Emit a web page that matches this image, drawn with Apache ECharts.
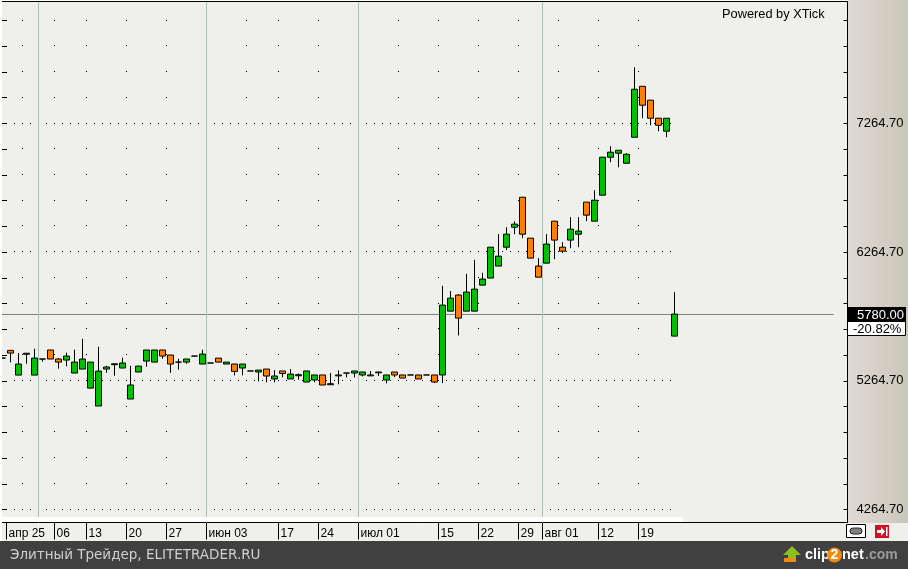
<!DOCTYPE html>
<html>
<head>
<meta charset="utf-8">
<title>XTick chart</title>
<style>
  html, body { margin: 0; padding: 0; background: #fff; }
  #chart {
    width: 908px; height: 569px;
    background: linear-gradient(90deg, #e1d9d4, #c9c7b9) 848px 0 / 60px 523px no-repeat, #eff0eb;
  }
</style>
<script src="https://cdn.jsdelivr.net/npm/echarts@6/dist/echarts.min.js"></script>
</head>
<body>
<div id="chart"></div>
<script>
// candles
const opens = [5441,5501,5309,5471,5309,5434,5504,5434,5426,5325,5356,5208,5069,5356,5390,5364,5123,5333,5418,5410,5504,5465,5410,5410,5457,5395,5403,5441,5395,
  5395,5364,5341,5333,5356,5279,5341,5279,5304,5255,5271,5310,5234,5303,5325,5325,5310,5303,5327,5271,5333,5310,5310,5310,5310,5310,
  5310,5806,5931,5806,5806,6008,6063,6156,6303,6458,6691,6373,6156,6179,6505,
  6303,6358,6404,6653,6505,6707,7002,7033,6955,7157,7553,7445,7305,7204,5612];
const closes = [5441,5480,5395,5479,5441,5434,5434,5410,5457,5410,5434,5410,5340,5372,5397,5403,5232,5379,5504,5504,5457,5395,5410,5434,5457,5472,5403,5410,5410,
  5338,5395,5341,5348,5302,5302,5322,5317,5312,5341,5310,5232,5242,5310,5325,5341,5333,5310,5333,5310,5310,5286,5310,5279,5310,5255,
  5853,5907,5752,5954,5977,6055,6303,6233,6404,6482,6404,6218,6070,6327,6358,
  6272,6443,6428,6552,6668,7002,7041,7056,7025,7530,7406,7305,7250,7305,5783];
const lows = [5441,5408,5309,5397,5309,5413,5434,5359,5377,5325,5356,5208,5069,5327,5304,5364,5123,5333,5374,5410,5436,5327,5351,5397,5457,5395,5403,5410,5395,
  5307,5307,5341,5260,5253,5253,5291,5279,5273,5255,5253,5232,5232,5237,5291,5291,5299,5303,5302,5245,5294,5286,5310,5279,5310,5247,
  5247,5806,5617,5806,5806,6008,6063,6156,6280,6404,6373,6218,6070,6179,6210,
  6257,6295,6303,6505,6505,6707,6963,6924,6955,7157,7305,7250,7204,7157,5612];
const highs = [5441,5501,5480,5480,5514,5434,5504,5441,5483,5506,5591,5410,5529,5382,5397,5444,5382,5379,5504,5504,5504,5465,5436,5434,5457,5506,5403,5441,5410,
  5395,5395,5341,5348,5356,5348,5341,5356,5322,5341,5310,5310,5325,5346,5325,5341,5333,5341,5333,5310,5333,5310,5310,5310,5310,5310,
  6003,5962,5938,6096,6205,6104,6303,6404,6458,6505,6691,6373,6218,6404,6505,
  6342,6536,6536,6653,6746,7002,7087,7056,7033,7701,7553,7445,7305,7305,5954];

// axis ticks and labels
const priceLabels = [7264.7, 6264.7, 5264.7, 4264.7];
const priceTicks = [8064.7,7864.7,7664.7,7464.7,7264.7,7064.7,6864.7,6664.7,6464.7,6264.7,6064.7,5864.7,5664.7,5464.7,5264.7,5064.7,4864.7,4664.7,4464.7,4264.7];
const dateSlots = [1,7,11,16,21,26,35,40,45,55,60,65,68,75,80];
const dateLabels = ['апр 25','06','13','20','27','июн 03','17','24','июл 01','15','22','29','авг 01','12','19'];
const monthSlots = [5,26,45,68];
const weekSlots = [3,7,11,16,21,26,31,35,40,45,50,55,60,65,70,75,80];
const lastPrice = 5780;

const slotCount = 106;
const categories = [];
for (let i = 0; i < slotCount; i++) categories.push(String(i));
const candles = opens.map((o, i) => [o, closes[i], lows[i], highs[i]]);

const gridDots = [];
priceLabels.forEach(p => {
  for (let s = 2; s <= 84; s++) if (monthSlots.indexOf(s) < 0) gridDots.push([s, p]);
});
priceTicks.filter(p => priceLabels.indexOf(p) < 0).forEach(p => {
  weekSlots.forEach(s => { if (monthSlots.indexOf(s) < 0) gridDots.push([s, p]); });
});

const FONT = '"Liberation Sans", Arial, sans-serif';
const yMin = 4163.7, yMax = 8211.9;

// one crisp pixel per dot
function renderDot(params, api) {
  const p = api.coord([api.value(0), api.value(1)]);
  return {
    type: 'rect',
    shape: { x: Math.floor(p[0]), y: Math.floor(p[1] - 0.4), width: 1, height: 1 },
    style: { fill: '#000' }
  };
}

const chart = echarts.init(document.getElementById('chart'));
chart.setOption({
  animation: false,
  backgroundColor: 'transparent',
  grid: { left: -1.5, top: 1.5, width: 848, height: 521, outerBoundsMode: 'none' },
  xAxis: [
    { type: 'category', data: categories, show: false },
    {
      type: 'value', min: 0, max: slotCount, position: 'bottom',
      axisLine: { show: true, onZero: false, lineStyle: { color: '#000', width: 1 } },
      axisTick: { show: true, length: 17, customValues: dateSlots, lineStyle: { color: '#000' } },
      axisLabel: {
        show: true, customValues: dateSlots, margin: 5, align: 'left', padding: [0, 0, 0, 2],
        color: '#000', fontFamily: FONT, fontSize: 12,
        formatter: v => dateLabels[dateSlots.indexOf(v)]
      },
      splitLine: { show: false }
    }
  ],
  yAxis: [
    {
      type: 'value', min: yMin, max: yMax, position: 'right', offset: 1,
      axisLine: { show: true, onZero: false, lineStyle: { color: '#000', width: 1 } },
      axisTick: { show: true, inside: true, length: 4, customValues: priceTicks, lineStyle: { color: '#000' } },
      axisLabel: {
        show: true, customValues: priceLabels, margin: 9, padding: [4, 0, 0, 0],
        color: '#000', fontFamily: FONT, fontSize: 13,
        formatter: v => v.toFixed(2)
      },
      splitLine: { show: false }
    },
    {
      type: 'value', min: yMin, max: yMax, position: 'left',
      axisLine: { show: false, onZero: false },
      axisTick: { show: true, inside: true, length: 8.5, customValues: priceTicks, lineStyle: { color: '#000' } },
      axisLabel: { show: false },
      splitLine: { show: false }
    }
  ],
  series: [
    {
      type: 'custom', xAxisIndex: 1, yAxisIndex: 0, silent: true, z: 1,
      renderItem: renderDot, encode: { x: 0, y: 1 }, data: gridDots,
      markLine: {
        silent: true, symbol: 'none', animation: false, label: { show: false },
        lineStyle: { color: '#a9c1b3', width: 1, type: 'solid' },
        data: monthSlots.map(s => ({ xAxis: s }))
      }
    },
    {
      type: 'line', xAxisIndex: 1, yAxisIndex: 0, silent: true, z: 2,
      showSymbol: false, lineStyle: { color: '#808080', width: 1 },
      data: [[0, lastPrice], [104.4, lastPrice]]
    },
    {
      type: 'candlestick', xAxisIndex: 0, yAxisIndex: 0, z: 3,
      barWidth: 7, data: candles,
      itemStyle: {
        color: '#00c000', color0: '#ff8000',
        borderColor: '#000', borderColor0: '#000', borderColorDoji: '#000', borderWidth: 1
      }
    }
  ],
  graphic: [
    // frame bits
    { type: 'rect', z: 10, shape: { x: 0, y: 0, width: 848, height: 1 }, style: { fill: '#fff' } },
    { type: 'rect', z: 10, shape: { x: 0, y: 0, width: 2, height: 541 }, style: { fill: '#fff' } },
    { type: 'rect', z: 10, shape: { x: 2, y: 1, width: 846, height: 1 }, style: { fill: '#000' } },
    { type: 'rect', z: 10, shape: { x: 2, y: 517, width: 681, height: 5 }, style: { fill: '#fff' } },
    // footer
    { type: 'rect', z: 10, shape: { x: 0, y: 541, width: 908, height: 28 }, style: { fill: '#404040' } },
    { type: 'text', z: 11, x: 10, y: 555, style: { text: 'Элитный Трейдер, ELITETRADER.RU', fill: '#d0d0d0', font: '13.5px "DejaVu Sans", sans-serif', verticalAlign: 'middle' } },
    { type: 'text', z: 10, x: 722, y: 8, style: { text: 'Powered by XTick', fill: '#000', font: '12.8px ' + FONT } },
    // last price boxes
    { type: 'rect', z: 11, shape: { x: 848, y: 307, width: 58, height: 15 }, style: { fill: '#000' } },
    { type: 'text', z: 12, x: 857, y: 309, style: { text: '5780.00', fill: '#fff', font: '13px ' + FONT } },
    { type: 'rect', z: 11, shape: { x: 847.5, y: 321.5, width: 58, height: 14 }, style: { fill: '#fff', stroke: '#000', lineWidth: 1 } },
    { type: 'text', z: 12, x: 853, y: 323, style: { text: '-20.82%', fill: '#000', font: '13px ' + FONT } },
    // small buttons
    { type: 'rect', z: 11, shape: { x: 846.5, y: 524.5, width: 19, height: 13 }, style: { fill: '#fff', stroke: '#000', lineWidth: 1 } },
    { type: 'rect', z: 12, shape: { x: 850, y: 528, width: 12, height: 6, r: 3 }, style: { fill: '#808080', stroke: '#222', lineWidth: 1 } },
    { type: 'rect', z: 11, shape: { x: 875, y: 525, width: 14, height: 13 }, style: { fill: '#d01020' } },
    { type: 'polygon', z: 12, shape: { points: [[877,530],[881,530],[881,527],[885,531.5],[881,536],[881,533],[877,533]] }, style: { fill: '#fff' } },
    { type: 'rect', z: 12, shape: { x: 886, y: 527, width: 1.5, height: 9 }, style: { fill: '#fff' } },
    // clip2net logo
    { type: 'polygon', z: 11, shape: { points: [[792,546],[801,555],[796,555],[796,560],[788,560],[788,555],[783,555]] }, style: { fill: '#8cc020' } },
    { type: 'rect', z: 12, shape: { x: 784, y: 558, width: 12, height: 4 }, style: { fill: '#f08a10' } },
    { type: 'text', z: 11, x: 805, y: 555, style: { text: 'clip', fill: '#fff', font: 'bold 14.5px "Liberation Sans"', verticalAlign: 'middle' } },
    { type: 'circle', z: 11, shape: { cx: 834.5, cy: 555, r: 7.5 }, style: { fill: '#f08a10' } },
    { type: 'text', z: 12, x: 834.5, y: 555, style: { text: '2', fill: '#fff', font: 'bold 14px "Liberation Sans"', align: 'center', verticalAlign: 'middle' } },
    { type: 'text', z: 11, x: 842, y: 555, style: { text: 'net', fill: '#fff', font: 'bold 14.5px "Liberation Sans"', verticalAlign: 'middle' } },
    { type: 'text', z: 11, x: 865, y: 555, style: { text: '.com', fill: '#9a9a9a', font: 'bold 14px "Liberation Sans"', verticalAlign: 'middle' } }
  ]
});
</script>
</body>
</html>
